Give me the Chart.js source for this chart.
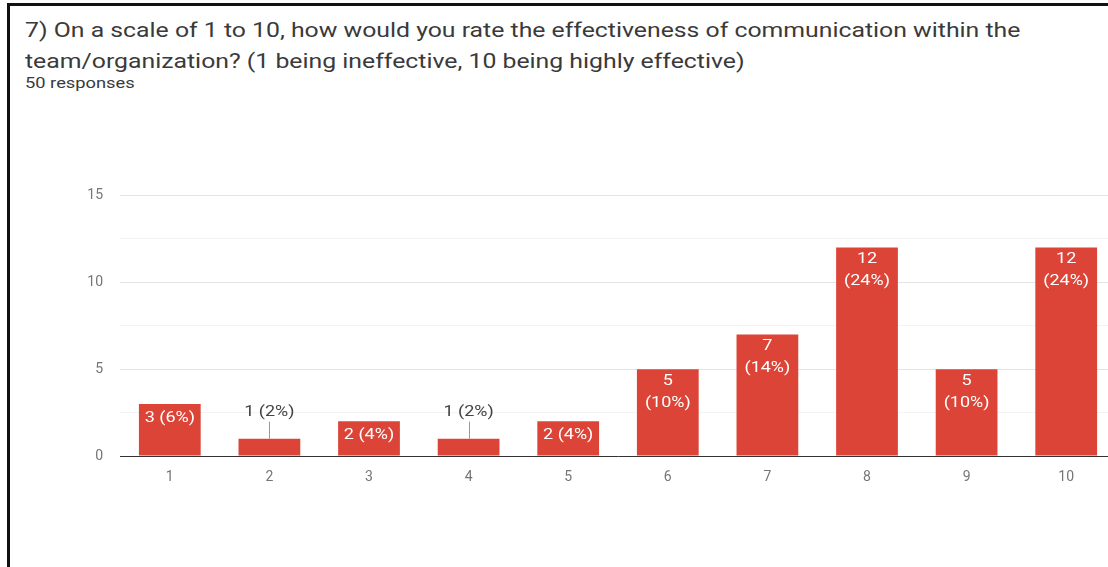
<!DOCTYPE html>
<html>
<head>
<meta charset="utf-8">
<script src="https://cdn.jsdelivr.net/npm/chart.js@4/dist/chart.umd.min.js"></script>
<style>
  html, body { margin: 0; padding: 0; background: #fff; overflow: hidden; width: 1108px; height: 567px; }
  .frame { position: absolute; left: 7px; top: 3px; width: 1200px; height: 700px; border-top: 3px solid #111; border-left: 3px solid #111; }
  .question { position: absolute; left: 25px; top: 15px; font: 20px Roboto, sans-serif; line-height: 31px; color: #3a3a3a; white-space: nowrap; transform: scaleX(1.24); transform-origin: left top; }
  .count { position: absolute; left: 25px; top: 74px; font: 15px Roboto, sans-serif; color: #3a3a3a; transform: scaleX(1.22); transform-origin: left top; }
  .plot { position: absolute; left: 0; top: 170px; width: 1116px; height: 330px; }
</style>
</head>
<body>
<div class="frame"></div>
<div class="question">7) On a scale of 1 to 10, how would you rate the effectiveness of communication within the<br>team/organization? (1 being ineffective, 10 being highly effective)</div>
<div class="count">50 responses</div>
<div class="plot"><canvas id="ratingChart" width="1116" height="330"></canvas></div>

<script>
let ratings = ['1', '2', '3', '4', '5', '6', '7', '8', '9', '10']
let counts = [3, 1, 2, 1, 2, 5, 7, 12, 5, 12]
let yTicks = [0, 5, 10, 15]

let total = counts.reduce((a, b) => a + b, 0)
let stretch = 1.2

// draw text a bit wider than the font, centred on x
function wideText(ctx, text, x, y) {
  ctx.save()
  ctx.translate(x, y)
  ctx.scale(stretch, 1)
  ctx.fillText(text, 0, 0)
  ctx.restore()
}

// value labels: inside the bar when it fits, above it with a short line when the bar is too short
let barLabels = {
  id: 'barLabels',
  afterDatasetsDraw(chart) {
    let ctx = chart.ctx
    let meta = chart.getDatasetMeta(0)
    ctx.save()
    ctx.font = '15px Roboto'
    ctx.textAlign = 'center'
    ctx.textBaseline = 'middle'
    meta.data.forEach((bar, i) => {
      let v = counts[i]
      let pct = '(' + Math.round((v / total) * 100) + '%)'
      let text = v + ' ' + pct
      let h = bar.base - bar.y
      if (h < 20) {
        ctx.fillStyle = '#444'
        wideText(ctx, text, bar.x, bar.y - 26)
        ctx.strokeStyle = '#999'
        ctx.lineWidth = 1
        ctx.beginPath()
        ctx.moveTo(Math.round(bar.x) + 0.5, bar.y - 17)
        ctx.lineTo(Math.round(bar.x) + 0.5, bar.y)
        ctx.stroke()
      } else if (ctx.measureText(text).width * stretch < bar.width - 4) {
        ctx.fillStyle = '#fff'
        wideText(ctx, text, bar.x, bar.y + 14)
      } else {
        ctx.fillStyle = '#fff'
        wideText(ctx, String(v), bar.x, bar.y + 12)
        wideText(ctx, pct, bar.x, bar.y + 34)
      }
    })
    ctx.restore()
  },
}

let ratingCtx = document.getElementById('ratingChart').getContext('2d')

let ratingChart = new Chart(ratingCtx, {
  type: 'bar',
  data: {
    labels: ratings,
    datasets: [
      {
        data: counts,
        backgroundColor: '#db4437',
        barPercentage: 0.62,
        categoryPercentage: 1,
      },
    ],
  },
  options: {
    responsive: false,
    animation: false,
    layout: { padding: { top: 14, right: 0, bottom: 0, left: 0 } },
    plugins: {
      legend: { display: false },
      tooltip: { enabled: false },
    },
    scales: {
      x: {
        grid: { display: false, drawTicks: false },
        border: { display: true, color: '#333', width: 1 },
        ticks: { color: '#757575', font: { family: 'Roboto', size: 14 }, padding: 13 },
        afterFit: (scale) => { scale.height = 44 },
      },
      y: {
        min: 0,
        max: 15,
        border: { display: false },
        grid: {
          drawTicks: false,
          color: (c) => (c.tick.value % 5 === 0 ? '#e4e4e4' : '#f3f3f3'),
        },
        ticks: {
          stepSize: 2.5,
          color: '#757575',
          font: { family: 'Roboto', size: 14 },
          padding: 17,
          callback: (v) => (yTicks.includes(v) ? v : ''),
        },
        afterFit: (scale) => { scale.width = 120 },
      },
    },
  },
  plugins: [barLabels],
})
</script>
</body>
</html>
